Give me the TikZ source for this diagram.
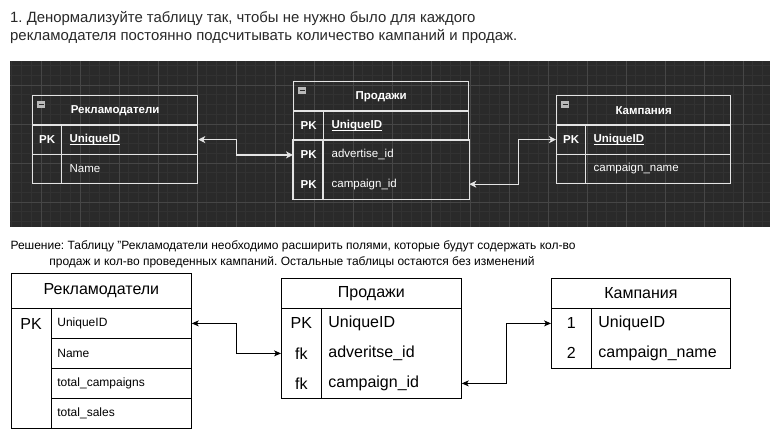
\documentclass[tikz,border=0pt]{standalone}
\usepackage{fontspec}
\setmainfont{Liberation Sans}
\usetikzlibrary{positioning,arrows.meta}
\definecolor{erPanel}{RGB}{42,42,42}
\definecolor{erMinor}{RGB}{50,50,50}
\definecolor{erMajor}{RGB}{70,70,70}
\definecolor{erLine}{RGB}{228,228,228}
\definecolor{erText}{RGB}{40,40,40}

\begin{document}
\frenchspacing
\begin{tikzpicture}[x=1pt, y=-1pt,
  dcell/.style={draw=erLine, line width=1.3pt, anchor=north west, inner sep=0pt, minimum height=29.3pt, text=white, font=\fontsize{11.5}{13}\selectfont},
  dbold/.style={dcell, font=\fontsize{11.5}{13}\selectfont\bfseries},
  lcell/.style={draw=black, line width=0.8pt, anchor=north west, inner sep=0pt, minimum height=30pt, font=\fontsize{16}{18}\selectfont},
  dlink/.style={erLine, line width=1.3pt, {Stealth[length=7pt,width=7pt,inset=2pt]}-{Stealth[length=7pt,width=7pt,inset=2pt]}},
  llink/.style={black, line width=0.8pt, {Stealth[length=7pt,width=6pt,inset=2pt]}-{Stealth[length=7pt,width=6pt,inset=2pt]}}]
  \fill[white] (0,0) rectangle (770,429);
  \useasboundingbox (0,0) rectangle (770,429);

  % Task text
  \node[anchor=base west, inner sep=0pt, text=erText, font=\fontsize{14.9}{18}\selectfont] (task1) at (10,22) {1. Денормализуйте таблицу так, чтобы не нужно было для каждого};
  \node[anchor=base west, inner sep=0pt, text=erText, font=\fontsize{14.9}{18}\selectfont] (task2) at (10,40) {рекламодателя постоянно подсчитывать количество кампаний и продаж.};

  % Dark panel with grid
  \begin{scope}
    \clip (10,61) rectangle (770,227);
    \fill[erPanel] (10,61) rectangle (770,227);
    \foreach \i in {0,...,79} \draw[erMinor, line width=0.6pt] ({11.75+9.75*\i},61) -- ++(0,166);
    \foreach \i in {0,...,17} \draw[erMinor, line width=0.6pt] (10,{65.5+9.75*\i}) -- ++(760,0);
    \foreach \i in {0,...,19} \draw[erMajor, line width=0.8pt] ({41+39*\i},61) -- ++(0,166);
    \foreach \i in {0,...,4} \draw[erMajor, line width=0.8pt] (10,{85+39*\i}) -- ++(760,0);
  \end{scope}

  % Рекламодатели (old)
  \begin{scope}[shift={(32,95)}]
    \node[dbold, minimum width=165pt] (rekHead) at (0,0) {Рекламодатели};
    \fill[gray!55] (5,6) rectangle ++(8,7);
    \draw[erPanel, line width=1.2pt] (6.5,9.5) -- ++(5,0);
    \node[dbold, minimum width=29pt] (rekIdKey) at (0,29.3) {PK};
    \node[dcell, minimum width=136pt, inner xsep=8pt, text width=120pt, align=left] (rekIdField) at (29,29.3) {\underline{\smash{\textbf{UniqueID}}}\vphantom{UniqueID}};
    \node[dbold, minimum width=29pt] (rekNameKey) at (0,58.6) {};
    \node[dcell, minimum width=136pt, inner xsep=8pt, text width=120pt, align=left] (rekNameField) at (29,58.6) {Name};
  \end{scope}

  % Продажи (old)
  \begin{scope}[shift={(293,81)}]
    \node[dbold, minimum width=175pt] (prHead) at (0,0) {Продажи};
    \fill[gray!55] (5,6) rectangle ++(8,7);
    \draw[erPanel, line width=1.2pt] (6.5,9.5) -- ++(5,0);
    \node[dbold, minimum width=30pt] (prIdKey) at (0,29.3) {PK};
    \node[dcell, minimum width=145pt, inner xsep=8pt, text width=129pt, align=left] (prIdField) at (30,29.3) {\underline{\smash{\textbf{UniqueID}}}\vphantom{UniqueID}};
    \node[dbold, draw=none, minimum width=30pt] (prAdvKey) at (0,58.6) {PK};
    \node[dcell, draw=none, minimum width=145pt, inner xsep=8pt, text width=129pt, align=left] (prAdvField) at (30,58.6) {advertise\_id};
    \node[dbold, draw=none, minimum width=30pt] (prCampKey) at (0,87.9) {PK};
    \node[dcell, draw=none, minimum width=145pt, inner xsep=8pt, text width=129pt, align=left] (prCampField) at (30,87.9) {campaign\_id};
  \end{scope}
  \draw[erLine, line width=1.3pt] (prAdvKey.north west) rectangle (prCampField.south east);
  \draw[erLine, line width=1.3pt] (prAdvField.north west) -- (prCampField.south west);

  % Кампания (old)
  \begin{scope}[shift={(556,95)}]
    \node[dbold, minimum width=174pt] (kmHead) at (0,0) {Кампания};
    \fill[gray!55] (5,6) rectangle ++(8,7);
    \draw[erPanel, line width=1.2pt] (6.5,9.5) -- ++(5,0);
    \node[dbold, minimum width=29pt] (kmIdKey) at (0,29.3) {PK};
    \node[dcell, minimum width=145pt, inner xsep=8pt, text width=129pt, align=left] (kmIdField) at (29,29.3) {\underline{\smash{\textbf{UniqueID}}}\vphantom{UniqueID}};
    \node[dbold, minimum width=29pt] (kmNameKey) at (0,58.6) {};
    \node[dcell, minimum width=145pt, inner xsep=8pt, text width=129pt, align=left] (kmNameField) at (29,58.6) {campaign\_name};
  \end{scope}

  \draw[dlink] (rekIdField.east) -- ++(38,0) |- (prAdvKey.west);
  \draw[dlink] (prCampField.east) -- ++(49,0) |- (kmIdKey.west);

  % Solution text
  \node[anchor=base, inner sep=0pt, font=\fontsize{12}{14}\selectfont] (sol1) at (293,249) {Решение: Таблицу "Рекламодатели необходимо расширить полями, которые будут содержать кол-во};
  \node[anchor=base, inner sep=0pt, font=\fontsize{12}{14}\selectfont] (sol2) at (292,265) {продаж и кол-во проведенных кампаний. Остальные таблицы остаются без изменений};

  % Рекламодатели (new)
  \begin{scope}[shift={(11,273)}]
    \node[lcell, minimum width=180pt, minimum height=35pt] (rekHeadB) at (0,0) {Рекламодатели};
    \node[lcell, minimum width=40pt, minimum height=120pt] (rekKeyB) at (0,35) {};
    \node[inner sep=0pt, font=\fontsize{16}{18}\selectfont] (rekPkB) at (20,51) {PK};
    \node[lcell, minimum width=140pt, inner xsep=6pt, text width=128pt, align=left, font=\fontsize{12}{14}\selectfont] (rekIdB) at (40,35) {UniqueID};
    \node[lcell, minimum width=140pt, inner xsep=6pt, text width=128pt, align=left, font=\fontsize{12}{14}\selectfont] (rekNameB) at (40,65) {Name};
    \node[lcell, minimum width=140pt, inner xsep=6pt, text width=128pt, align=left, font=\fontsize{12}{14}\selectfont] (rekCampB) at (40,95) {total\_campaigns};
    \node[lcell, minimum width=140pt, inner xsep=6pt, text width=128pt, align=left, font=\fontsize{12}{14}\selectfont] (rekSalesB) at (40,125) {total\_sales};
  \end{scope}

  % Продажи (new)
  \begin{scope}[shift={(281,278)}]
    \node[lcell, minimum width=180pt] (prHeadB) at (0,0) {Продажи};
    \node[lcell, draw=none, minimum width=40pt] (prIdKeyB) at (0,30) {PK};
    \node[lcell, draw=none, minimum width=140pt, inner xsep=7pt, text width=126pt, align=left] (prIdFieldB) at (40,30) {UniqueID};
    \node[lcell, draw=none, minimum width=40pt] (prAdvKeyB) at (0,60) {fk};
    \node[lcell, draw=none, minimum width=140pt, inner xsep=7pt, text width=126pt, align=left] (prAdvFieldB) at (40,60) {adveritse\_id};
    \node[lcell, draw=none, minimum width=40pt] (prCampKeyB) at (0,90) {fk};
    \node[lcell, draw=none, minimum width=140pt, inner xsep=7pt, text width=126pt, align=left] (prCampFieldB) at (40,90) {campaign\_id};
  \end{scope}
  \draw[line width=0.8pt] (prIdKeyB.north west) rectangle (prCampFieldB.south east);
  \draw[line width=0.8pt] (prIdFieldB.north west) -- (prCampFieldB.south west);

  % Кампания (new)
  \begin{scope}[shift={(551,278)}]
    \node[lcell, minimum width=179pt] (kmHeadB) at (0,0) {Кампания};
    \node[lcell, draw=none, minimum width=40pt] (kmIdKeyB) at (0,30) {1};
    \node[lcell, draw=none, minimum width=139pt, inner xsep=7pt, text width=125pt, align=left] (kmIdFieldB) at (40,30) {UniqueID};
    \node[lcell, draw=none, minimum width=40pt] (kmNameKeyB) at (0,60) {2};
    \node[lcell, draw=none, minimum width=139pt, inner xsep=7pt, text width=125pt, align=left] (kmNameFieldB) at (40,60) {campaign\_name};
  \end{scope}
  \draw[line width=0.8pt] (kmIdKeyB.north west) rectangle (kmNameFieldB.south east);
  \draw[line width=0.8pt] (kmIdFieldB.north west) -- (kmNameFieldB.south west);

  \draw[llink] (rekIdB.east) -- ++(45,0) |- (prAdvKeyB.west);
  \draw[llink] (prCampFieldB.east) -- ++(45,0) |- (kmIdKeyB.west);
\end{tikzpicture}
\end{document}
